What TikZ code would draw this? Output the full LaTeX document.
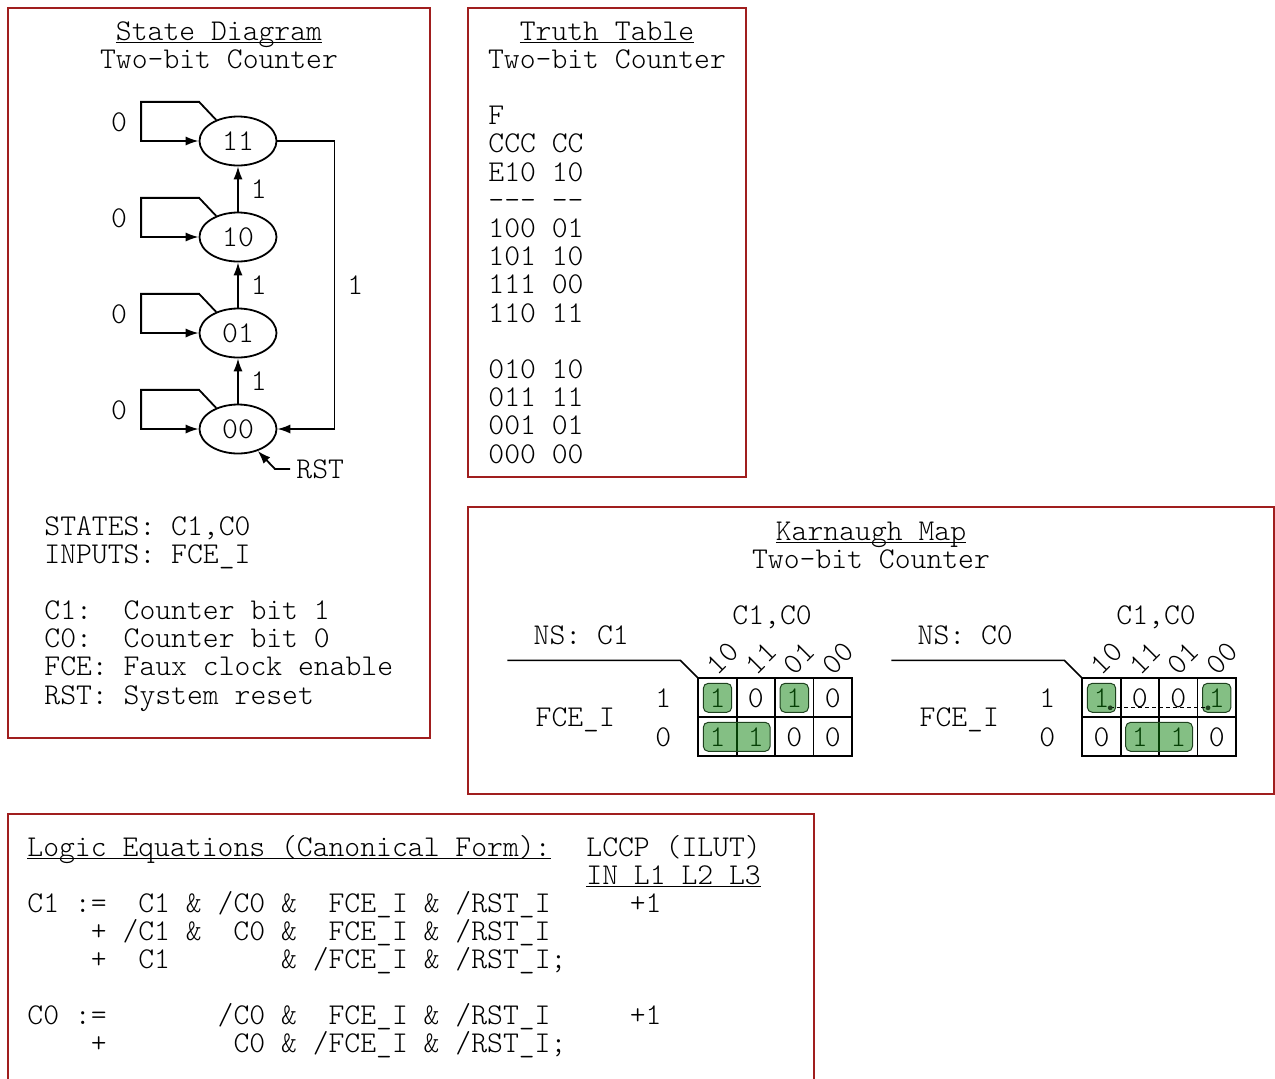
\documentclass[tikz,border=0pt]{standalone}
\usepackage{tikz}
\usetikzlibrary{%
  shapes.geometric, arrows.meta, positioning
}
\usepackage{xcolor}

\definecolor{boxred}{RGB}{160,30,30}
\definecolor{kmapgreen}{RGB}{10,128,10}
\definecolor{kmapedge}{RGB}{30,65,30}

\newcommand{\mono}{\fontfamily{lmtt}\fontseries{l}\fontsize{15.1pt}{18pt}\selectfont}
\newcommand{\undl}[1]{\setbox0=\hbox{#1}\rlap{\rule[-1.6pt]{\wd0}{0.6pt}}\box0}

\begin{document}
\begin{tikzpicture}[%
    x=0.5pt, y=-0.5pt,
    >={Latex[length=6.5pt,width=4.6pt]},
    every node/.style={%
      font=\mono,
      text=black,
      inner sep=0pt,
      text height=9.2pt,
      text depth=0pt
    },
    frame/.style={draw=boxred, line width=1pt},
    stnode/.style={ellipse, draw, line width=0.9pt, minimum width=38.5pt, minimum height=24.5pt},
    wire/.style={line width=0.9pt},
    kcell/.style={draw, line width=0.9pt, outer sep=0pt, minimum width=19.2pt, minimum height=19.5pt},
    kgroup/.style={fill=kmapgreen, fill opacity=0.5, draw=kmapedge, line width=0.5pt, rounded corners=2.5pt}
  ]

  \useasboundingbox (0,0) rectangle (1275,1078);

  % Frames
  \draw[frame] (8,8) rectangle (430,738);
  \draw[frame] (468,8) rectangle (746,477);
  \draw[frame] (468,507) rectangle (1274,794);
  \draw[frame] (8,814) rectangle (814,1100);

  % State diagram
  \node (sdt) at (219,31) {\undl{State Diagram}};
  \node[below=14pt of sdt.center, anchor=center] (sds) {Two-bit Counter};

  \node[stnode] (s11) at (238,141) {11};
  \node[stnode, below=22.6pt of s11] (s10) {10};
  \node[stnode, below=22.6pt of s10] (s01) {01};
  \node[stnode, below=22.6pt of s01] (s00) {00};

  % Self loops
  \draw[wire,->] (s11.136) -- ++(-17,-18) -- ++(-58,0) |- (s11.west);
  \draw[wire,->] (s10.136) -- ++(-17,-18) -- ++(-58,0) |- (s10.west);
  \draw[wire,->] (s01.136) -- ++(-17,-18) -- ++(-58,0) |- (s01.west);
  \draw[wire,->] (s00.136) -- ++(-17,-18) -- ++(-58,0) |- (s00.west);
  \node (z11) at ([shift={(-119,-19)}]s11.center) {0};
  \node (z10) at ([shift={(-119,-19)}]s10.center) {0};
  \node (z01) at ([shift={(-119,-19)}]s01.center) {0};
  \node (z00) at ([shift={(-119,-19)}]s00.center) {0};

  % Counting steps
  \draw[wire,->] (s00) -- (s01) node[midway, right=6pt] (n01) {1};
  \draw[wire,->] (s01) -- (s10) node[midway, right=6pt] (n12) {1};
  \draw[wire,->] (s10) -- (s11) node[midway, right=6pt] (n23) {1};
  \draw[wire,->] (s11.east) -- ++(57,0) |- (s00.east)
    node[pos=0.25, right=6pt] (n30) {1};

  % Reset
  \node[anchor=west, inner xsep=3pt] (rst) at (290,469) {RST};
  \draw[wire,->] (rst.west) -- ++(-15,0) -- (s00.-48);

  \node[anchor=west] (st1) at (44,526.5) {STATES: C1,C0};
  \node[below=14.1pt of st1.west, anchor=west] (st2) {INPUTS: FCE\_I};
  \node[below=27.8pt of st2.west, anchor=west] (st3) {C1:~~Counter bit 1};
  \node[below=14.1pt of st3.west, anchor=west] (st4) {C0:~~Counter bit 0};
  \node[below=14.1pt of st4.west, anchor=west] (st5) {FCE: Faux clock enable};
  \node[below=14.1pt of st5.west, anchor=west] (st6) {RST: System reset};

  % Truth table
  \node (ttt) at (607,31) {\undl{Truth Table}};
  \node[below=14pt of ttt.center, anchor=center] (tts) {Two-bit Counter};
  \node[anchor=west] (tt1) at (488,115.5) {F};
  \node[below=14.1pt of tt1.west, anchor=west] (tt2) {CCC CC};
  \node[below=14.1pt of tt2.west, anchor=west] (tt3) {E10 10};
  \node[below=14.1pt of tt3.west, anchor=west] (tt4) {-{}-{}- -{}-};
  \node[below=14.1pt of tt4.west, anchor=west] (tt5) {100 01};
  \node[below=14.1pt of tt5.west, anchor=west] (tt6) {101 10};
  \node[below=14.1pt of tt6.west, anchor=west] (tt7) {111 00};
  \node[below=14.1pt of tt7.west, anchor=west] (tt8) {110 11};
  \node[below=28.2pt of tt8.west, anchor=west] (tt9) {010 10};
  \node[below=14.1pt of tt9.west, anchor=west] (tt10) {011 11};
  \node[below=14.1pt of tt10.west, anchor=west] (tt11) {001 01};
  \node[below=14.1pt of tt11.west, anchor=west] (tt12) {000 00};

  % Karnaugh maps
  \node (kmt) at (871,531) {\undl{Karnaugh Map}};
  \node[below=14pt of kmt.center, anchor=center] (kms) {Two-bit Counter};

  % NS: C1
  \node[kcell] (ca1) at (717.5,697.8) {1};
  \node[kcell, right=0pt of ca1] (ca2) {0};
  \node[kcell, right=0pt of ca2] (ca3) {1};
  \node[kcell, right=0pt of ca3] (ca4) {0};
  \node[kcell, below=0pt of ca1] (cb1) {1};
  \node[kcell, right=0pt of cb1] (cb2) {1};
  \node[kcell, right=0pt of cb2] (cb3) {0};
  \node[kcell, right=0pt of cb3] (cb4) {0};

  \node[rotate=45] (ha1) at ([shift={(5,-20)}]ca1.north) {10};
  \node[rotate=45] (ha2) at ([shift={(5,-20)}]ca2.north) {11};
  \node[rotate=45] (ha3) at ([shift={(5,-20)}]ca3.north) {01};
  \node[rotate=45] (ha4) at ([shift={(5,-20)}]ca4.north) {00};
  \node (ra1) at ([shift={(-35,0)}]ca1.west) {1};
  \node (rb1) at ([shift={(-35,0)}]cb1.west) {0};
  \node (fa) at ([shift={(-123,0)}]ca1.south west) {FCE\_I};
  \node[anchor=west] (nsa) at ([shift={(-165,-43)}]ca1.north west) {NS: C1};
  \node (cca) at ([shift={(-3,-63)}]ca2.north east) {C1,C0};
  \draw[line width=0.8pt] (ca1.north west) -- ++(-18,-18) -- ++(-173,0);

  \draw[kgroup] ([shift={(5,5)}]ca1.north west) rectangle ([shift={(-5,-5)}]ca1.south east);
  \draw[kgroup] ([shift={(5,5)}]ca3.north west) rectangle ([shift={(-5,-5)}]ca3.south east);
  \draw[kgroup] ([shift={(5,5)}]cb1.north west) rectangle ([shift={(-5,-5)}]cb2.south east);

  % NS: C0
  \node[kcell] (da1) at (1101.5,697.8) {1};
  \node[kcell, right=0pt of da1] (da2) {0};
  \node[kcell, right=0pt of da2] (da3) {0};
  \node[kcell, right=0pt of da3] (da4) {1};
  \node[kcell, below=0pt of da1] (db1) {0};
  \node[kcell, right=0pt of db1] (db2) {1};
  \node[kcell, right=0pt of db2] (db3) {1};
  \node[kcell, right=0pt of db3] (db4) {0};

  \node[rotate=45] (hb1) at ([shift={(5,-20)}]da1.north) {10};
  \node[rotate=45] (hb2) at ([shift={(5,-20)}]da2.north) {11};
  \node[rotate=45] (hb3) at ([shift={(5,-20)}]da3.north) {01};
  \node[rotate=45] (hb4) at ([shift={(5,-20)}]da4.north) {00};
  \node (ra2) at ([shift={(-35,0)}]da1.west) {1};
  \node (rb2) at ([shift={(-35,0)}]db1.west) {0};
  \node (fb) at ([shift={(-123,0)}]da1.south west) {FCE\_I};
  \node[anchor=west] (nsb) at ([shift={(-165,-43)}]da1.north west) {NS: C0};
  \node (ccb) at ([shift={(-3,-63)}]da2.north east) {C1,C0};
  \draw[line width=0.8pt] (da1.north west) -- ++(-18,-18) -- ++(-173,0);

  \draw[kgroup] ([shift={(5,5)}]da1.north west) rectangle ([shift={(-5,-5)}]da1.south east);
  \draw[kgroup] ([shift={(5,5)}]da4.north west) rectangle ([shift={(-5,-5)}]da4.south east);
  \draw[kgroup] ([shift={(5,5)}]db2.north west) rectangle ([shift={(-5,-5)}]db3.south east);

  % Wrap-around pair
  \coordinate (wa) at ([shift={(-10.5,-9.5)}]da1.south east);
  \coordinate (wb) at ([shift={(10.5,-9.5)}]da4.south west);
  \draw[line width=0.5pt, dash pattern=on 2pt off 1.5pt] (wa) -- (wb);
  \fill[kmapedge] (wa) circle (1.2pt) (wb) circle (1.2pt);

  % Logic equations
  \node[anchor=west] (le1) at (27,847) {\undl{Logic Equations (Canonical Form):}};
  \node[anchor=west] (lc1) at (586,847) {LCCP (ILUT)};
  \node[below=14pt of lc1.west, anchor=west] (lc2) {\undl{IN L1 L2 L3}};
  \node[below=28pt of le1.west, anchor=west] (le2)
    {C1~:=~~C1~\&~/C0~\&~~FCE\_I~\&~/RST\_I~~~~~+1};
  \node[below=14pt of le2.west, anchor=west] (le3)
    {~~~~+~/C1~\&~~C0~\&~~FCE\_I~\&~/RST\_I};
  \node[below=14pt of le3.west, anchor=west] (le4)
    {~~~~+~~C1~~~~~~~\&~/FCE\_I~\&~/RST\_I;};
  \node[below=28pt of le4.west, anchor=west] (le5)
    {C0~:=~~~~~~~/C0~\&~~FCE\_I~\&~/RST\_I~~~~~+1};
  \node[below=14pt of le5.west, anchor=west] (le6)
    {~~~~+~~~~~~~~C0~\&~/FCE\_I~\&~/RST\_I;};

\end{tikzpicture}
\end{document}
